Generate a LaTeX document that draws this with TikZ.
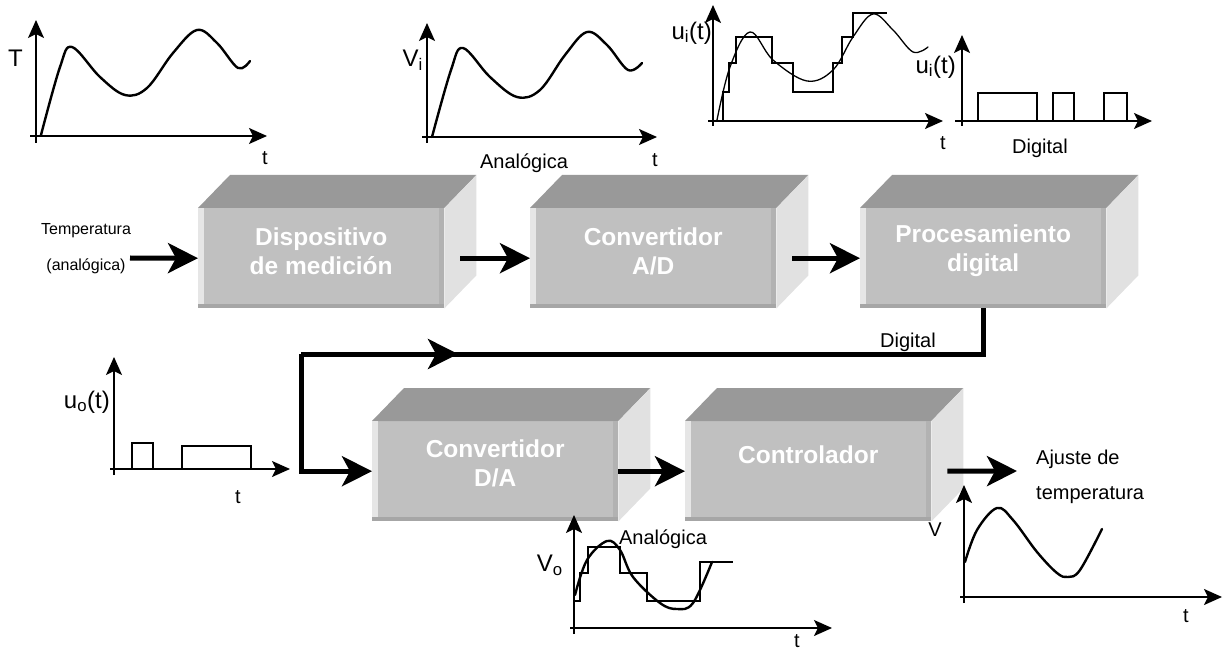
\documentclass[tikz,border=0pt]{standalone}
\usepackage{fontspec}
\setmainfont{Liberation Sans}
\usetikzlibrary{arrows.meta}
\definecolor{boxfront}{HTML}{C0C0C0}
\definecolor{boxtop}{HTML}{999999}
\definecolor{boxside}{HTML}{E1E1E1}
\definecolor{stripL}{HTML}{E6E6E6}
\definecolor{stripB}{HTML}{A6A6A6}
\definecolor{stripR}{HTML}{B2B2B2}

% top and side faces plus edge strips of a 3D block whose front is node #1
\newcommand\cubesides[1]{%
  \fill[boxtop] (#1.north west) -- ++(32,-33) -- ([shift={(32,-33)}]#1.north east) -- (#1.north east) -- cycle;
  \fill[boxside] (#1.north east) -- ++(32,-33) -- ([shift={(32,-33)}]#1.south east) -- (#1.south east) -- cycle;
  \fill[stripL] (#1.north west) rectangle ([xshift=6pt]#1.south west);
  \fill[stripR] ([xshift=-5pt]#1.north east) rectangle (#1.south east);
  \fill[stripB] ([yshift=4pt]#1.south west) rectangle (#1.south east);
}

\begin{document}
\begin{tikzpicture}[x=1pt,y=-1pt,
  front/.style={rectangle, fill=boxfront, minimum width=246pt, minimum height=100pt, inner sep=0pt, anchor=north west},
  boxtext/.style={font=\fontsize{24.5}{29}\selectfont\bfseries, text=white, align=center, inner sep=0pt},
  bigarrow/.style={line width=5pt, line join=miter, -{Stealth[length=30pt,width=30pt,inset=8pt]}},
  bigline/.style={line width=5pt, line join=miter},
  axis/.style={line width=1.6pt, -{Stealth[length=18pt,width=16pt,inset=4pt]}},
  curve/.style={line width=2.4pt, line join=round, line cap=round},
  thincurve/.style={line width=1.3pt, line join=round, line cap=round},
  stairs/.style={line width=2.5pt, line join=miter},
  pulse/.style={line width=1.6pt, line join=miter},
  lbl/.style={font=\fontsize{24}{27}\selectfont, inner sep=0pt},
  tl/.style={font=\fontsize{20}{22}\selectfont, inner sep=0pt},
  small/.style={font=\fontsize{20}{23}\selectfont, inner sep=0pt},
  narrow/.style={font=\fontsize{16}{19}\selectfont, inner sep=0pt}
]
\useasboundingbox (0,0) rectangle (1226,652);

% ---------- blocks ----------
\node[front] (b1) at (198,208) {};
\cubesides{b1}
\node[boxtext] (t1) at ([yshift=7pt]b1.center) {Dispositivo\\de medición};

\node[front] (b2) at (530,208) {};
\cubesides{b2}
\node[boxtext] (t2) at ([yshift=7pt]b2.center) {Convertidor\\A/D};

\node[front] (b3) at (860,208) {};
\cubesides{b3}
\node[boxtext] (t3) at ([yshift=7pt]b3.center) {Procesamiento\\digital};

\node[front] (b4) at (372,421) {};
\cubesides{b4}
\node[boxtext] (t4) at ([yshift=8pt]b4.center) {Convertidor\\D/A};

\node[front] (b5) at (685,421) {};
\cubesides{b5}
\node[boxtext] (t5) at ([yshift=16pt]b5.center) {Controlador};

% ---------- signal flow ----------
\coordinate (in) at (130,258);
\coordinate (fb1) at (301,354);
\coordinate (fbtip) at (458,354);
\coordinate (out) at (1017,471);

\draw[bigarrow] (in) -- (b1.west);
\draw[bigarrow] ([xshift=16pt]b1.east) -- (b2.west);
\draw[bigarrow] ([xshift=16pt]b2.east) -- (b3.west);
\draw[bigline] (b3.south) |- (fb1);
\draw[bigarrow] (fb1) |- (b4.west);
\draw[bigarrow] (fb1) -- (fbtip);
\draw[bigarrow] (b4.east) -- (b5.west);
\draw[bigarrow] ([xshift=16pt]b5.east) -- (out);

\node[narrow] (lin1) at (86,231) {Temperatura};
\node[narrow] (lin2) at (86,266) {(analógica)};
\node[small] (ldig) at (908,342) {Digital};
\node[small, anchor=west] (lout1) at (1036,459) {Ajuste de};
\node[small, anchor=west] (lout2) at (1036,495) {temperatura};

% ---------- T(t) ----------
\draw[axis] (36,143) -- (36,20);
\draw[axis] (30,136) -- (267,136);
\draw[curve] plot[smooth, tension=0.6] coordinates {(41,135) (60,67) (72,47) (100,77) (125,95) (147,88) (173,53) (197,30) (217,43) (238,68) (250,61)};
\node[lbl, anchor=east] (gT) at (23,58) {T};
\node[tl] (gTt) at (265,158) {t};

% ---------- Vi(t) ----------
\draw[axis] (427,143) -- (427,23);
\draw[axis] (422,137) -- (657,137);
\draw[curve] plot[smooth, tension=0.6] coordinates {(432,137) (451,70) (463,48) (490,77) (517,97) (540,90) (565,55) (587,32) (607,45) (628,70) (642,63)};
\node[lbl, anchor=east] (gV) at (423,60) {V\textsubscript{i}};
\node[tl] (gVt) at (655,160) {t};
\node[small] (gVa) at (524,163) {Analógica};

% ---------- ui(t), sampled ----------
\draw[axis] (713,126) -- (713,5);
\draw[axis] (708,121) -- (943,121);
\draw[thincurve] plot[smooth, tension=0.6] coordinates {(717,120) (730,67) (750,32) (773,60) (807,81) (833,70) (853,37) (873,14) (893,30) (913,52) (928,47)};
\draw[stairs] (723,121) -- (723,92) -- (729,92) -- (729,63) -- (736,63) -- (736,37) -- (772,37) -- (772,63) -- (793,63) -- (793,92) -- (833,92) -- (833,63) -- (842,63) -- (842,37) -- (853,37) -- (853,13) -- (887,13);
\node[lbl, anchor=east] (gU) at (712,33) {u\textsubscript{i}(t)};
\node[tl] (gUt) at (943,143) {t};

% ---------- ui(t), digital ----------
\draw[axis] (962,126) -- (962,35);
\draw[axis] (955,121) -- (1152,121);
\draw[pulse] (978,121) -- (978,93) -- (1037,93) -- (1037,121);
\draw[pulse] (1053,121) -- (1053,93) -- (1074,93) -- (1074,121);
\draw[pulse] (1104,121) -- (1104,93) -- (1127,93) -- (1127,121);
\node[lbl, anchor=east] (gD) at (956,67) {u\textsubscript{i}(t)};
\node[small] (gDd) at (1040,148) {Digital};

% ---------- uo(t) ----------
\draw[axis] (114,475) -- (114,357);
\draw[axis] (110,469) -- (290,469);
\draw[pulse] (132,469) -- (132,443) -- (153,443) -- (153,469);
\draw[pulse] (182,469) -- (182,446) -- (251,446) -- (251,469);
\node[lbl, anchor=east] (gO) at (110,402) {u\textsubscript{o}(t)};
\node[tl] (gOt) at (238,497) {t};

% ---------- Vo(t) ----------
\draw[axis] (574,634) -- (574,515);
\draw[axis] (570,628) -- (832,628);
\draw[curve] plot[smooth, tension=0.6] coordinates {(575,595) (587,560) (607,541) (620,550) (633,577) (660,603) (677,609) (693,603) (712,562)};
\draw[stairs] (575,601) -- (580,601) -- (580,573) -- (588,573) -- (588,547) -- (620,547) -- (620,573) -- (647,573) -- (647,601) -- (700,601) -- (700,562) -- (733,562);
\node[lbl, anchor=east] (gVo) at (563,565) {V\textsubscript{o}};
\node[small] (gVoa) at (663,539) {Analógica};
\node[tl] (gVot) at (797,641) {t};

% ---------- V(t) ----------
\draw[axis] (964,603) -- (964,485);
\draw[axis] (960,597) -- (1222,597);
\draw[curve] plot[smooth, tension=0.6] coordinates {(965,562) (977,530) (997,508) (1013,520) (1037,552) (1057,573) (1068,577) (1080,570) (1102,529)};
\node[tl] (gW) at (935,530) {V};
\node[tl] (gWt) at (1186,616) {t};
\end{tikzpicture}
\end{document}
